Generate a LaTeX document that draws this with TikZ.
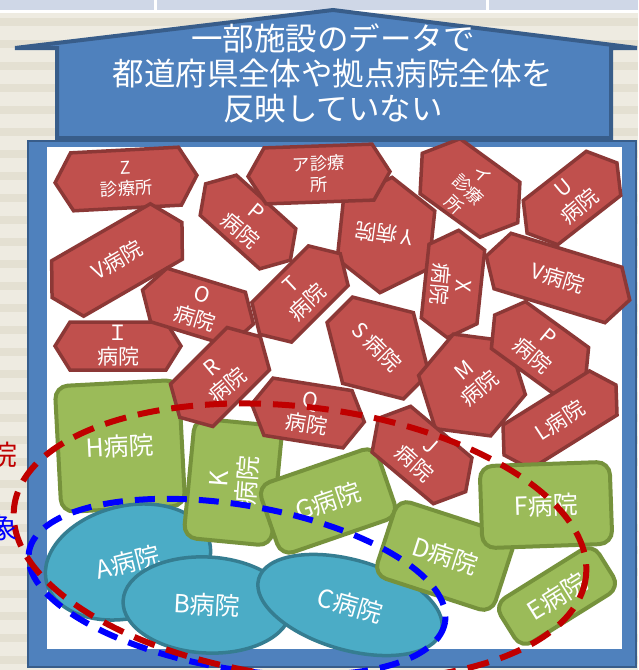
\documentclass[tikz,border=0pt]{standalone}
\usepackage{fontspec}
\setmainfont{Noto Sans CJK JP}
\usetikzlibrary{shapes.geometric}
\definecolor{hexred}{HTML}{C0504D}
\definecolor{hexredd}{HTML}{8C3836}
\definecolor{grn}{HTML}{9BBB59}
\definecolor{grnd}{HTML}{76923C}
\definecolor{blu}{HTML}{4BACC6}
\definecolor{blud}{HTML}{357D91}
\definecolor{framec}{HTML}{4F81BD}
\definecolor{framed}{HTML}{385D8A}
\definecolor{bgc}{HTML}{EEEBE1}
\definecolor{bgs}{HTML}{E4E0D2}
\definecolor{stripc}{HTML}{CFD7E7}
\definecolor{dred}{HTML}{C00000}
\tikzset{
 redhex/.style={fill=hexred, draw=hexredd, line width=3.5pt},
 hextext/.style={text=white, font=\fontsize{21}{24}\selectfont, align=center, inner sep=0pt},
 smalltext/.style={hextext, font=\fontsize{17.5}{21}\selectfont},
 greenbox/.style={rectangle, rounded corners=13pt, fill=grn, draw=grnd, line width=4pt, text=white, font=\fontsize{25}{28}\selectfont, align=center, inner sep=0pt},
 greentext/.style={text=white, font=\fontsize{25}{28}\selectfont, align=center, inner sep=0pt},
 blueell/.style={ellipse, fill=blu, draw=blud, line width=3.5pt, text=white, font=\fontsize{25}{28}\selectfont, inner sep=0pt},
 reddash/.style={draw=dred, line width=6pt, dash pattern=on 22pt off 12pt},
 bluedash/.style={draw=blue, line width=6pt, dash pattern=on 20pt off 12pt},
 titletext/.style={text=white, font=\fontsize{31.5}{35}\selectfont, align=center, inner sep=0pt},
 sidetext/.style={font=\fontsize{28}{30}\selectfont, anchor=east, inner sep=0pt},
}
% cx, cy, half-width, half-height, chamfer, angle
\newcommand\myhex[6]{%
  \draw[redhex, shift={(#1,#2)}, rotate=#6] (-#3,0) -- ({-#3+#5},-#4) -- ({#3-#5},-#4) -- (#3,0) -- ({#3-#5},#4) -- ({-#3+#5},#4) -- cycle;}
\begin{document}
\begin{tikzpicture}[x=1pt,y=-1pt]
\useasboundingbox (0,0) rectangle (638,670);
% background
\fill[bgc] (0,0) rectangle (638,670);
\foreach \yy in {18,40,...,670} \fill[bgs] (0,\yy) rectangle (638,\yy+8);
\fill[stripc] (0,0) rectangle (638,10);
\draw[white, line width=3pt] (0,11) -- (638,11) (155,0) -- (155,11) (487,0) -- (487,11);
% frame
\draw[fill=framec, draw=framed, line width=2.5pt] (28,141) rectangle (636,667);
\fill[white] (47,147) rectangle (622,649);
% red hexagons
\myhex{126}{179}{71}{29}{17}{3}
\node[smalltext, rotate=3] (Z) at (126,179) {Z\\診療所};
\myhex{117}{260}{75}{32}{18}{30}
\node[hextext, rotate=30] (V1) at (117,260) {V病院};
\myhex{118}{346}{63}{24}{15}{0}
\node[hextext] (I) at (118,346) {Ｉ\\病院};
\myhex{198}{307}{58}{28}{17}{-17}
\node[hextext, rotate=-17] (O) at (198,307) {O\\病院};
\myhex{248}{222}{57}{27}{17}{-42}
\node[hextext, rotate=-40] (P1) at (248,222) {P\\病院};
\myhex{386}{235}{58}{46}{29}{84}
\node[hextext, rotate=172] (Y) at (384,234) {Y 病院};
\myhex{319}{174}{71}{28}{17}{2}
\node[smalltext, rotate=2] (Ah) at (319,174) {ア診療\\所};
\myhex{470}{188}{59}{34}{22}{-36}
\node[smalltext, rotate=-43] (Ih) at (468,190) {イ\\診療\\所};
\myhex{300}{294}{57}{28}{17}{45}
\node[hextext, rotate=43] (T) at (300,294) {T\\病院};
\myhex{572}{198}{57}{28}{17}{38}
\node[hextext, rotate=40] (U) at (572,198) {U\\病院};
\myhex{558}{278}{75}{29}{17}{-17}
\node[hextext, rotate=-17] (V2) at (558,278) {V病院};
\myhex{453}{284}{54}{28}{17}{84}
\node[hextext, rotate=-95] (X) at (451,285) {X\\病院};
\myhex{378}{348}{50}{54}{32}{45}
\node[hextext, rotate=-45] (S) at (377,347) {S 病院};
\myhex{472}{385}{57}{47}{30}{50}
\node[hextext, rotate=40] (M) at (472,380) {M\\病院};
\myhex{540}{348}{56}{29}{17}{-36}
\node[hextext, rotate=-40] (P2) at (540,347) {P\\病院};
\myhex{560}{420}{66}{26}{15}{32}
\node[hextext, rotate=33] (L) at (560,420) {L病院};
% green and blue, first layer
\node[greenbox, minimum width=124pt, minimum height=126pt, rotate=3] (H) at (120,446) {H病院};
\node[blueell, minimum width=168pt, minimum height=112pt, rotate=14] (A) at (128,562) {A病院};
\node[greenbox, minimum width=88pt, minimum height=120pt, rotate=-5.5] (K) at (233,482) {};
\node[greentext, rotate=86] (Kt) at (234,480) {K\\病院};
% red over greens
\myhex{220}{377}{57}{30}{17}{45}
\node[hextext, rotate=40] (R) at (220,377) {R\\病院};
\myhex{308}{413}{57}{29}{17}{-9}
\node[hextext, rotate=-9] (Q) at (308,413) {Q\\病院};
% blue ellipses and greens
\node[blueell, minimum width=168pt, minimum height=96pt, rotate=-3] (B) at (207,605) {B病院};
\node[blueell, minimum width=190pt, minimum height=90pt, rotate=-16] (C) at (350,605) {C病院};
\node[greenbox, minimum width=124pt, minimum height=74pt, rotate=19] (G) at (328,501) {G病院};
\myhex{422}{455}{57}{30}{17}{-40}
\node[hextext, rotate=-42] (J) at (422,455) {J\\病院};
\node[greenbox, minimum width=124pt, minimum height=80pt, rotate=-18] (D) at (445,556) {D病院};
\node[greenbox, minimum width=116pt, minimum height=52pt, rotate=32] (E) at (557,596) {E病院};
\node[greenbox, minimum width=130pt, minimum height=82pt, rotate=2] (F) at (546,505) {F病院};
% dashed groupings
\draw[bluedash, rotate around={-9.6:(237,587)}] (237,587) ellipse [x radius=211, y radius=82];
\draw[reddash, rotate around={-7:(300,542)}] (300,542) ellipse [x radius=288, y radius=135];
% side labels
\node[sidetext, text=dred] (lbl1) at (18,455) {院};
\node[sidetext, text=blue] (lbl2) at (18,528) {象};
% house
\draw[fill=framec, draw=framed, line width=4pt] (15,48) -- (333,10) -- (637,48) -- (611,48) -- (611,138) -- (57,138) -- (57,48) -- cycle;
\node[titletext] (title) at (333,73) {一部施設のデータで\\都道府県全体や拠点病院全体を\\反映していない};
\end{tikzpicture}
\end{document}
